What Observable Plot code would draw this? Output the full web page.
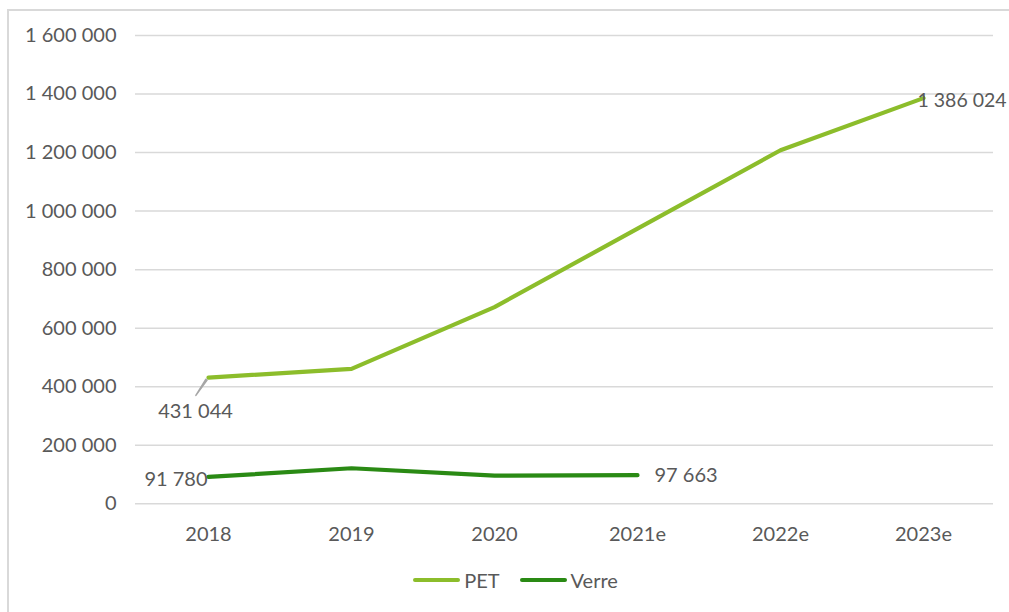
<!DOCTYPE html>
<html>
<head>
<meta charset="utf-8">
<script src="https://cdn.jsdelivr.net/npm/d3@7"></script>
<script src="https://cdn.jsdelivr.net/npm/@observablehq/plot@0.6"></script>
<style>
  html, body { margin: 0; padding: 0; background: #fff; overflow: hidden; }
  body { width: 1009px; height: 612px; position: relative; font-family: Lato, "Open Sans", sans-serif; }
  #frame { position: absolute; left: 7px; top: 9px; width: 1100px; height: 700px; border: 2px solid #d9d9d9; pointer-events: none; }
  #chart { position: absolute; left: 0; top: 0; }
  #legend { position: absolute; left: 0; top: 568px; width: 1009px; display: flex; justify-content: center; font-size: 20px; color: #595959; padding-left: 22px; box-sizing: border-box; }
  .item { display: flex; align-items: center; margin: 0 10px; }
  .sw { display: inline-block; width: 47px; height: 4px; border-radius: 2px; margin-right: 4px; }
</style>
</head>
<body>
<div id="chart"></div>
<div id="legend"></div>
<div id="frame"></div>
<script>
const years = ["2018", "2019", "2020", "2021e", "2022e", "2023e"];
const petValues = [431044, 461000, 672000, 940000, 1208000, 1386024];
const verreYears = ["2018", "2019", "2020", "2021e"];
const verreValues = [91780, 121500, 96000, 97663];
const yTicks = [0, 200000, 400000, 600000, 800000, 1000000, 1200000, 1400000, 1600000];
const seriesNames = ["PET", "Verre"];
const seriesColors = ["#8cbd2b", "#2a8a14"];

const fmt = v => d3.format(",")(v).replace(/,/g, " ");

const pet = years.map((y, i) => ({year: y, value: petValues[i], series: "PET"}));
const verre = verreYears.map((y, i) => ({year: y, value: verreValues[i], series: "Verre"}));

const labels = [
  {year: "2018", value: petValues[0], text: fmt(petValues[0])},
  {year: "2023e", value: petValues[5], text: fmt(petValues[5])},
  {year: "2018", value: verreValues[0], text: fmt(verreValues[0])},
  {year: "2021e", value: verreValues[3], text: fmt(verreValues[3])}
];

const chart = Plot.plot({
  width: 1009,
  height: 556,
  marginLeft: 135,
  marginRight: 14,
  marginTop: 35,
  marginBottom: 52.7,
  style: {fontFamily: "Lato, 'Open Sans', sans-serif", fontSize: "20px", color: "#595959", background: "transparent"},
  x: {type: "point", domain: years, padding: 0.5, label: null, tickSize: 0, tickPadding: 23},
  y: {domain: [0, 1600000], ticks: yTicks, tickFormat: fmt, label: null, tickSize: 0, tickPadding: 19},
  marks: [
    Plot.ruleY(yTicks, {stroke: "#d9d9d9", strokeWidth: 1.5, insetRight: 2}),
    Plot.line(pet, {x: "year", y: "value", stroke: seriesColors[0], strokeWidth: 4.2, strokeLinecap: "round", strokeLinejoin: "round"}),
    Plot.line(verre, {x: "year", y: "value", stroke: seriesColors[1], strokeWidth: 4.2, strokeLinecap: "round", strokeLinejoin: "round"}),
    Plot.vector([labels[0]], {x: "year", y: "value", length: 19, rotate: 214, anchor: "start", shape: "spike", r: 0.7, stroke: "#a6a6a6", fill: "#a6a6a6", dx: -2, dy: 2}),
    Plot.text([labels[0]], {x: "year", y: "value", text: "text", dx: -13, dy: 34, textAnchor: "middle", fill: "#595959", fontSize: 20}),
    Plot.text([labels[1]], {x: "year", y: "value", text: "text", dx: -6, dy: 3, textAnchor: "start", fill: "#595959", fontSize: 19.5}),
    Plot.text([labels[2]], {x: "year", y: "value", text: "text", dx: -1, dy: 3, textAnchor: "end", fill: "#595959", fontSize: 20}),
    Plot.text([labels[3]], {x: "year", y: "value", text: "text", dx: 17, dy: 0, textAnchor: "start", fill: "#595959", fontSize: 20})
  ]
});
document.getElementById("chart").appendChild(chart);

const legend = document.getElementById("legend");
seriesNames.forEach((name, i) => {
  const item = document.createElement("div");
  item.className = "item";
  const sw = document.createElement("span");
  sw.className = "sw";
  sw.style.background = seriesColors[i];
  item.appendChild(sw);
  item.appendChild(document.createTextNode(name));
  legend.appendChild(item);
});
</script>
</body>
</html>
